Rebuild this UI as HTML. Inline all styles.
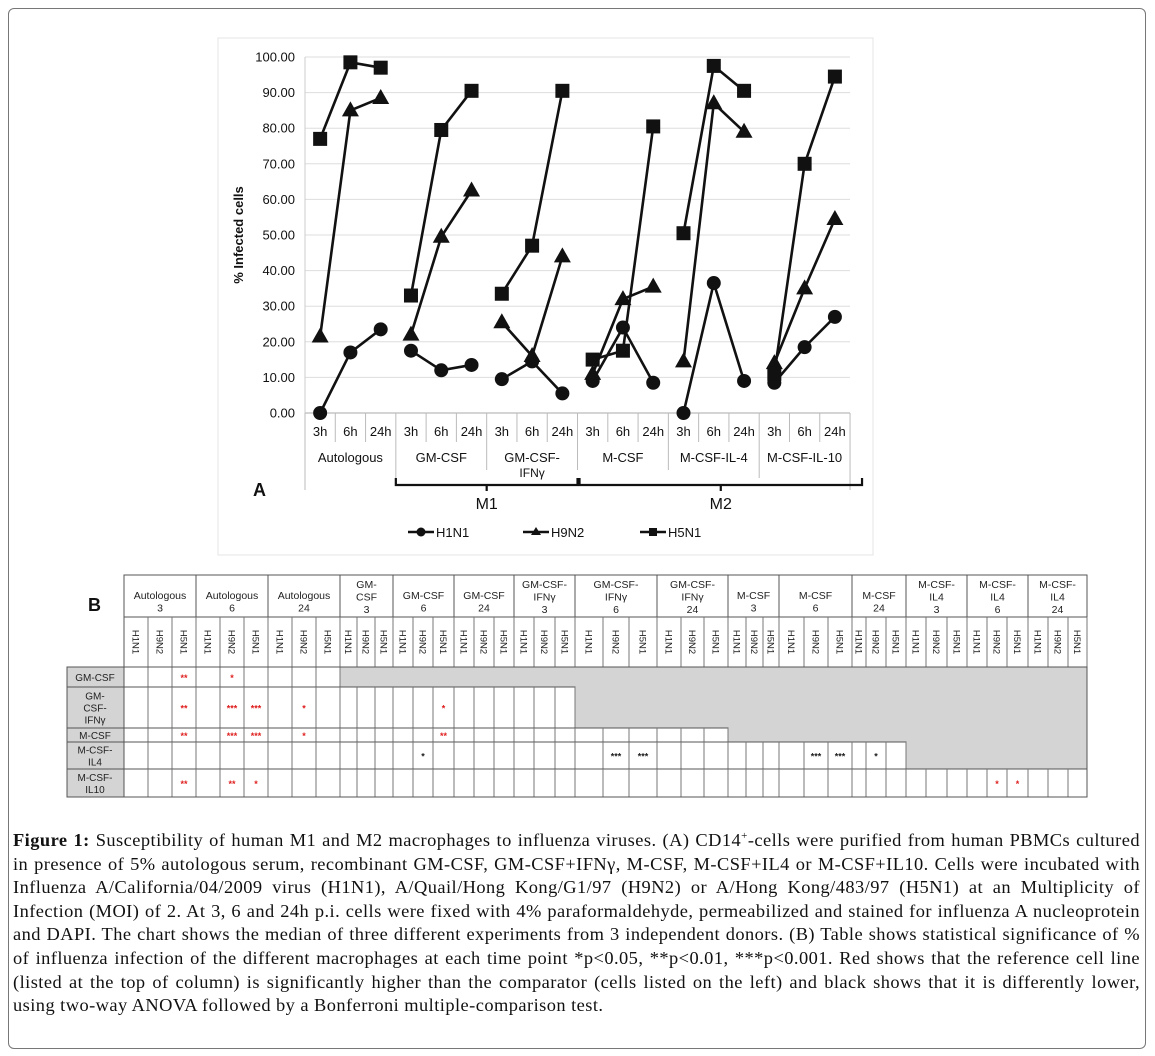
<!DOCTYPE html>
<html><head><meta charset="utf-8">
<style>
body{margin:0;background:#fff;width:1155px;height:1056px;overflow:hidden;position:relative;font-family:"Liberation Sans",sans-serif}
#frame{position:absolute;left:8px;top:8px;width:1138px;height:1041px;border:1px solid #777;border-radius:6px;box-sizing:border-box}
#cap{position:absolute;left:13px;top:829px;width:1127px;font-family:"Liberation Serif",serif;font-size:18.4px;letter-spacing:0.45px;line-height:23.6px;text-align:justify;color:#111}
svg{position:absolute;left:0;top:0}
</style></head><body>
<div id="frame"></div>
<svg id="svg" width="1155" height="1056"></svg>
<div id="cap"><b>Figure 1:</b> Susceptibility of human M1 and M2 macrophages to influenza viruses. (A) CD14<sup style="font-size:11px;line-height:0">+</sup>-cells were purified from human PBMCs cultured in presence of 5% autologous serum, recombinant GM-CSF, GM-CSF+IFNγ, M-CSF, M-CSF+IL4 or M-CSF+IL10. Cells were incubated with Influenza A/California/04/2009 virus (H1N1), A/Quail/Hong Kong/G1/97 (H9N2) or A/Hong Kong/483/97 (H5N1) at an Multiplicity of Infection (MOI) of 2. At 3, 6 and 24h p.i. cells were fixed with 4% paraformaldehyde, permeabilized and stained for influenza A nucleoprotein and DAPI. The chart shows the median of three different experiments from 3 independent donors. (B) Table shows statistical significance of % of influenza infection of the different macrophages at each time point *p&lt;0.05, **p&lt;0.01, ***p&lt;0.001. Red shows that the reference cell line (listed at the top of column) is significantly higher than the comparator (cells listed on the left) and black shows that it is differently lower, using two-way ANOVA followed by a Bonferroni multiple-comparison test.</div>
<script>
const groups = ["Autologous","GM-CSF","GM-CSF-IFNγ","M-CSF","M-CSF-IL-4","M-CSF-IL-10"];
const times = ["3h","6h","24h"];
const h1n1 = [0,17,23.5, 17.5,12,13.5, 9.5,14.5,5.5, 9,24,8.5, 0,36.5,9, 8.5,18.5,27];
const h9n2 = [21.5,85,88.5, 22,49.5,62.5, 25.5,16,44, 11,32,35.5, 14.5,87,79, 14,35,54.5];
const h5n1 = [77,98.5,97, 33,79.5,90.5, 33.5,47,90.5, 15,17.5,80.5, 50.5,97.5,90.5, 11,70,94.5];
const yTicks = [0,10,20,30,40,50,60,70,80,90,100];

const NS="http://www.w3.org/2000/svg";
const svg=document.getElementById('svg');
function mk(tag,attrs,parent,text){const e=document.createElementNS(NS,tag);for(const k in attrs)e.setAttribute(k,attrs[k]);if(text!==undefined)e.textContent=text;(parent||svg).appendChild(e);return e;}

const X0=305, STEP=30.28, Y0=413, YS=3.56;
const xs=i=>X0+STEP*(i+0.5);
const ys=v=>Y0-v*YS;
const nCat=groups.length*3, XR=X0+STEP*nCat;

let e=mk('rect',{x:218,y:38,width:655,height:517,fill:'none',stroke:'#e4e4e4'});

yTicks.forEach(t=>{
  let g=mk('line',{x1:X0,x2:XR,y1:ys(t),y2:ys(t),stroke:t===0?'#aaa':'#ddd','stroke-width':1});
  
  let l=mk('text',{x:295,y:ys(t)+4.5,'text-anchor':'end','font-size':13,fill:'#111'},null,t.toFixed(2));
  
});
e=mk('line',{x1:X0,x2:X0,y1:ys(100),y2:Y0,stroke:'#ccc'});

e=mk('text',{x:0,y:0,transform:'translate(243,235) rotate(-90)','text-anchor':'middle','font-size':13,'font-weight':'bold',fill:'#111'},null,'% Infected cells');

for(let i=0;i<=nCat;i++){
  const x=X0+STEP*i, grp=i%3===0;
  e=mk('line',{x1:x,x2:x,y1:Y0,y2:grp?(i===0||i===nCat?490:(i===3||i===15?478:470)):442,stroke:'#bbb'});
  
}
for(let i=0;i<nCat;i++){
  e=mk('text',{x:xs(i),y:436,'text-anchor':'middle','font-size':13,fill:'#111'},null,times[i%3]);
  
}
groups.forEach((g,gi)=>{
  const cx=xs(gi*3+1);
  if(g==="GM-CSF-IFNγ"){
    e=mk('text',{x:cx,y:462,'text-anchor':'middle','font-size':13,fill:'#111'},null,'GM-CSF-');
    
    e=mk('text',{x:cx,y:477,'text-anchor':'middle','font-size':12,fill:'#111'},null,'IFNγ');
    
  } else {
    e=mk('text',{x:cx,y:462,'text-anchor':'middle','font-size':13,fill:'#111'},null,g);
    
  }
});
function brace(x1,x2,label,name){
  const y=485, mid=(x1+x2)/2;
  let p=mk('path',{d:`M${x1} ${y-7} L${x1} ${y} L${x2} ${y} L${x2} ${y-7} M${mid} ${y} L${mid} ${y+6}`,fill:'none',stroke:'#111','stroke-width':2.2});
  
  let t=mk('text',{x:mid,y:509,'text-anchor':'middle','font-size':16,fill:'#111'},null,label);
  
}
brace(X0+STEP*3,X0+STEP*9,'M1','m1');
brace(X0+STEP*9+2,XR+12,'M2','m2');
e=mk('text',{x:253,y:496,'font-size':18,'font-weight':'bold',fill:'#111'},null,'A');


function marker(type,x,y,parent){
  if(type==='c')return mk('circle',{cx:x,cy:y,r:7,fill:'#111'},parent);
  if(type==='t')return mk('path',{d:`M${x} ${y-9} L${x+8.5} ${y+6} L${x-8.5} ${y+6}Z`,fill:'#111'},parent);
  return mk('rect',{x:x-7,y:y-7,width:14,height:14,fill:'#111'},parent);
}
const series=[['h1n1',h1n1,'c'],['h9n2',h9n2,'t'],['h5n1',h5n1,'s']];
series.forEach(([name,vals,m])=>{
  const g=mk('g',{});
  
  for(let gi=0;gi<groups.length;gi++){
    const pts=[0,1,2].map(k=>xs(gi*3+k)+','+ys(vals[gi*3+k])).join(' ');
    let l=mk('polyline',{points:pts,fill:'none',stroke:'#111','stroke-width':2.6},g);
    
  }
  vals.forEach((v,i)=>{
    let p=marker(m,xs(i),ys(v),g);
    
  });
});
[['H1N1',408,'c'],['H9N2',523,'t'],['H5N1',640,'s']].forEach(([lab,x,m])=>{
  const g=mk('g',{});
  
  mk('line',{x1:x,x2:x+26,y1:532,y2:532,stroke:'#111','stroke-width':2.6},g);
  if(m==='c')mk('circle',{cx:x+13,cy:532,r:4.5,fill:'#111'},g);
  else if(m==='t')mk('path',{d:`M${x+13} ${527} L${x+18} ${535} L${x+8} ${535}Z`,fill:'#111'},g);
  else mk('rect',{x:x+9,y:528,width:8,height:8,fill:'#111'},g);
  mk('text',{x:x+28,y:537,'font-size':13,fill:'#111'},g,lab);
});

const T=mk('g',{});

e=mk('text',{x:88,y:611,'font-size':18,'font-weight':'bold',fill:'#111'},null,'B');

const gb=[124,196,268,340,393,454,514,575,657,728,779,852,906,967,1028,1087];
const sub=[[148,172],[220,244],[292,316],[357,375],[413,433],[474,494],[534,555],[603,629],[681,704],[746,763],[804,828],[866,886],[926,947],[987,1007],[1048,1068]];
const heads=[["Autologous","3"],["Autologous","6"],["Autologous","24"],["GM-","CSF","3"],["GM-CSF","6"],["GM-CSF","24"],["GM-CSF-","IFNγ","3"],["GM-CSF-","IFNγ","6"],["GM-CSF-","IFNγ","24"],["M-CSF","3"],["M-CSF","6"],["M-CSF","24"],["M-CSF-","IL4","3"],["M-CSF-","IL4","6"],["M-CSF-","IL4","24"]];
const cols=[];gb.slice(0,15).forEach((b,i)=>{cols.push([b,sub[i][0]],[sub[i][0],sub[i][1]],[sub[i][1],gb[i+1]]);});
const rowsY=[667,687,728,742,769,797];
const rowLab=[["GM-CSF"],["GM-","CSF-","IFNγ"],["M-CSF"],["M-CSF-","IL4"],["M-CSF-","IL10"]];
const whiteEnd=[340,575,728,906,1087];
mk('rect',{x:124,y:575,width:963,height:92,fill:'#fff',stroke:'#555'},T);
heads.forEach((h,i)=>{
  const cx=(gb[i]+gb[i+1])/2, n=h.length, y0=n===3?588:599;
  h.forEach((s,k)=>mk('text',{x:cx,y:y0+k*12.5,'text-anchor':'middle','font-size':10.5,fill:'#222'},T,s));
  mk('line',{x1:gb[i+1],x2:gb[i+1],y1:575,y2:667,stroke:'#555'},T);
});
mk('line',{x1:124,x2:1087,y1:617,y2:617,stroke:'#555'},T);
cols.forEach((c,i)=>{
  mk('line',{x1:c[1],x2:c[1],y1:617,y2:667,stroke:'#777'},T);
  const cx=(c[0]+c[1])/2;
  mk('text',{x:0,y:0,transform:`translate(${cx-3.5},642) rotate(90)`,'text-anchor':'middle','font-size':9.5,fill:'#222'},T,['H1N1','H9N2','H5N1'][i%3]);
});
for(let r=0;r<5;r++){
  const y1=rowsY[r],y2=rowsY[r+1];
  mk('rect',{x:67,y:y1,width:57,height:y2-y1,fill:'#d4d4d4',stroke:'#555'},T);
  const n=rowLab[r].length, ym=(y1+y2)/2+4-(n-1)*6;
  rowLab[r].forEach((s,k)=>mk('text',{x:95,y:ym+k*12,'text-anchor':'middle','font-size':10,fill:'#222'},T,s));
  mk('rect',{x:124,y:y1,width:whiteEnd[r]-124,height:y2-y1,fill:'#fff',stroke:'#555'},T);
  if(whiteEnd[r]<1087)mk('rect',{x:whiteEnd[r],y:y1,width:1087-whiteEnd[r],height:y2-y1,fill:'#d4d4d4'},T);
  cols.forEach(c=>{if(c[1]<=whiteEnd[r])mk('line',{x1:c[1],x2:c[1],y1:y1,y2:y2,stroke:'#777'},T);});
}
mk('rect',{x:124,y:667,width:963,height:130,fill:'none',stroke:'#555'},T);
const marks=[[0,2,'**','r'],[0,4,'*','r'],
 [1,2,'**','r'],[1,4,'***','r'],[1,5,'***','r'],[1,7,'*','r'],[1,14,'*','r'],
 [2,2,'**','r'],[2,4,'***','r'],[2,5,'***','r'],[2,7,'*','r'],[2,14,'**','r'],
 [3,13,'*','k'],[3,22,'***','k'],[3,23,'***','k'],[3,31,'***','k'],[3,32,'***','k'],[3,34,'*','k'],
 [4,2,'**','r'],[4,4,'**','r'],[4,5,'*','r'],[4,40,'*','r'],[4,41,'*','r']];
marks.forEach(([r,ci,t,col])=>{
  const c=cols[ci];
  let m=mk('text',{x:(c[0]+c[1])/2,y:(rowsY[r]+rowsY[r+1])/2+4,'text-anchor':'middle','font-size':9,'font-weight':'bold',fill:col==='r'?'#e02020':'#222'},T,t);
  
  
});
</script>
</body></html>
